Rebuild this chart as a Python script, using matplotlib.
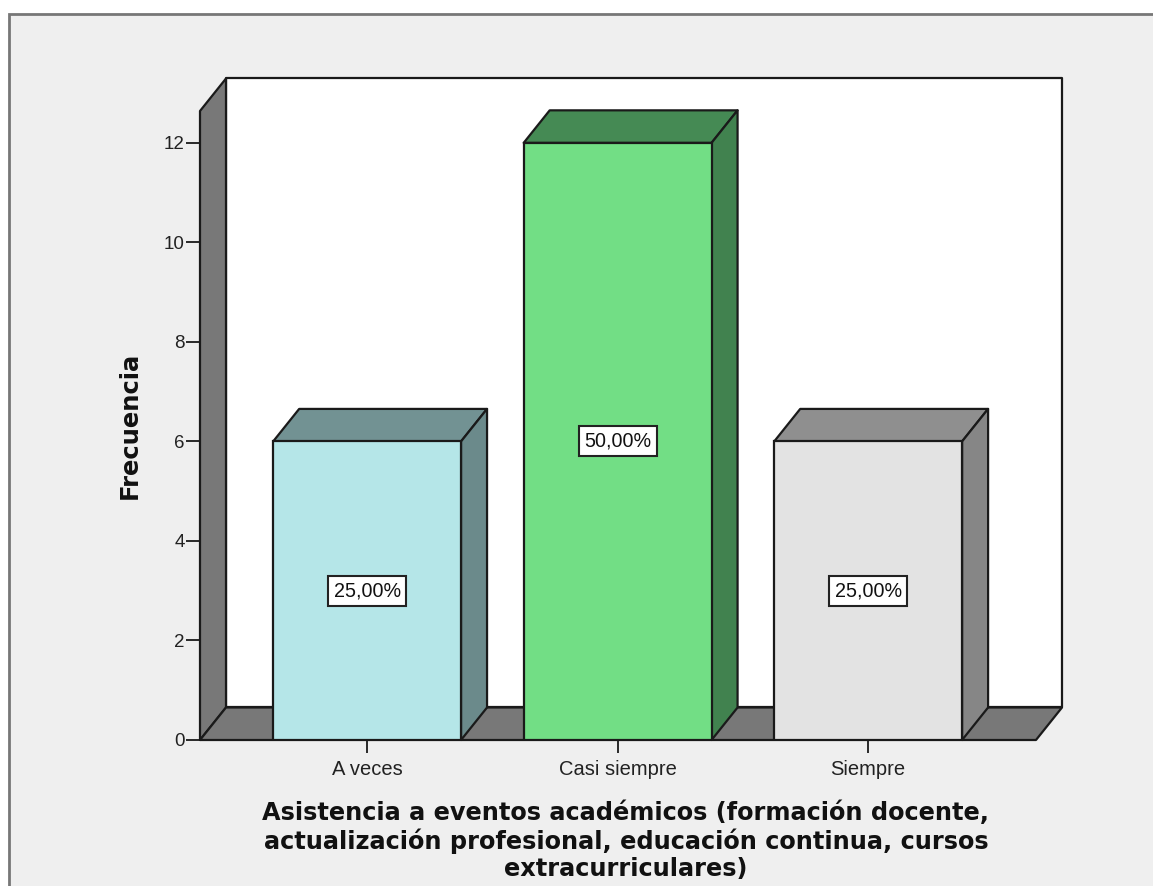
import matplotlib
matplotlib.use('Agg')
import matplotlib.pyplot as plt
from matplotlib.patches import Polygon, Rectangle

categories = ['A veces', 'Casi siempre', 'Siempre']
frecuencia = [6, 12, 6]
etiquetas = ['25,00%', '50,00%', '25,00%']
front_colors = ['#b5e6e8', '#72de85', '#e3e3e3']
top_colors = ['#729293', '#458a54', '#8f8f8f']
side_colors = ['#6b8a8b', '#41824f', '#868686']
yticks = [0, 2, 4, 6, 8, 10, 12]
x_title = ('Asistencia a eventos académicos (formación docente,\n'
           'actualización profesional, educación continua, cursos\n'
           'extracurriculares)')

W, H = 1153, 886
EDGE = '#1a1a1a'
WALL = '#787878'

fig = plt.figure(figsize=(W / 100, H / 100), dpi=100, facecolor='white')
fig.add_artist(Rectangle((9 / W, -0.01), (W - 9) / W + 0.01, (H - 14) / H + 0.01, transform=fig.transFigure,
                         facecolor='#efefef', edgecolor='#777777', linewidth=2, zorder=-1))

# axes = front plane of the 3d box
ax = fig.add_axes([200 / W, (H - 740) / H, 836 / W, 629 / H])
ax.set_xlim(-0.667, 2.67)
ax.set_ylim(0, 12.64)
ax.patch.set_visible(False)
for s in ax.spines.values():
    s.set_visible(False)

# depth of the box in data units
dx = 26 / 250.5
dy = 32.5 / 49.75
x0, x1 = ax.get_xlim()
top = ax.get_ylim()[1]

def poly(pts, fc, z):
    ax.add_patch(Polygon(pts, closed=True, facecolor=fc, edgecolor=EDGE, linewidth=1.6,
                         clip_on=False, zorder=z, joinstyle='round'))

poly([(x0 + dx, dy), (x1 + dx, dy), (x1 + dx, top + dy), (x0 + dx, top + dy)], 'white', 1)  # back wall
poly([(x0, 0), (x0 + dx, dy), (x0 + dx, top + dy), (x0, top)], WALL, 1.1)  # left wall
poly([(x0, 0), (x1, 0), (x1 + dx, dy), (x0 + dx, dy)], WALL, 1.2)  # floor

bar_w = 0.75
for i, v in enumerate(frecuencia):
    l, r = i - bar_w / 2, i + bar_w / 2
    poly([(l, v), (r, v), (r + dx, v + dy), (l + dx, v + dy)], top_colors[i], 2)
    poly([(r, 0), (r + dx, dy), (r + dx, v + dy), (r, v)], side_colors[i], 2)

ax.bar(range(3), frecuencia, width=bar_w, color=front_colors, edgecolor=EDGE, linewidth=1.6, zorder=3)

for i, v in enumerate(frecuencia):
    ax.text(i, v / 2, etiquetas[i], ha='center', va='center', fontsize=14.2,
            family='Liberation Sans', color='#111111', zorder=5,
            bbox=dict(boxstyle='square,pad=0.28', facecolor='white', edgecolor='#222222', linewidth=1.5))

ax.set_yticks(yticks)
ax.set_xticks(range(3))
ax.set_xticklabels(categories)
ax.tick_params(axis='y', length=10, width=1.3, pad=1, color=EDGE, labelsize=13.5, labelcolor='#222222')
ax.tick_params(axis='x', length=9.5, width=1.3, pad=5, color=EDGE, labelsize=14.5, labelcolor='#222222')
for t in ax.get_xticklabels() + ax.get_yticklabels():
    t.set_family('Liberation Sans')

fig.text(130 / W, 1 - 425 / H, 'Frecuencia', rotation=90, ha='center', va='center',
         fontsize=17.5, fontweight='bold', color='#111111', family='DejaVu Sans')
fig.text(626 / W, 1 - 841 / H, x_title, ha='center', va='center', fontsize=17.3,
         fontweight='bold', color='#111111', family='DejaVu Sans', linespacing=1.16)

fig.savefig('out.png', dpi=100, facecolor=fig.get_facecolor())
